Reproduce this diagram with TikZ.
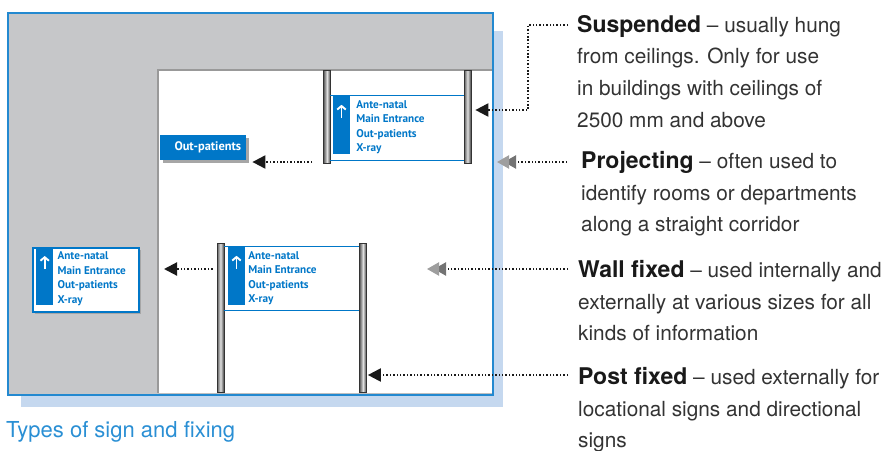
\documentclass[tikz,border=0pt]{standalone}
\usepackage{fontspec}
\setmainfont{TeX Gyre Heros}
\newfontfamily\signfont{PT Sans}
\usetikzlibrary{arrows.meta,shadows}
\definecolor{nhsblue}{HTML}{0077C8}
\definecolor{frameblue}{HTML}{2389D0}
\definecolor{paleblue}{HTML}{C5D8EF}
\definecolor{wallgrey}{HTML}{C6C7C9}
\definecolor{inkgrey}{HTML}{333333}
\definecolor{capblue}{HTML}{2A8FD4}
\newcommand{\head}[1]{{\fontsize{23}{31.7}\selectfont\bfseries\color{black!90}#1}}
\begin{document}
\begin{tikzpicture}[x=1pt,y=-1pt,
		note/.style={anchor=north west, inner sep=0pt, align=left, text=inkgrey, font=\fontsize{20.8}{31.7}\selectfont},
		pole/.style={draw=black!80, line width=0.7pt, minimum width=7pt, inner sep=0pt, left color=black!65, right color=black!75, middle color=black!12},
		board/.style={inner sep=0pt, minimum height=63pt},
		signline/.style={draw=nhsblue, line width=1.2pt},
		stripe/.style={fill=nhsblue, inner sep=0pt, minimum width=17pt, minimum height=58pt, anchor=north west},
		uparrow/.style={draw=white, line width=1.9pt, -{Straight Barb[length=3.5pt,width=8.5pt]}},
		signtext/.style={anchor=north west, inner sep=0pt, align=left, text=nhsblue, font=\signfont\bfseries\fontsize{11.2}{14.5}\selectfont},
		lead/.style={draw=black!90, line width=2.1pt, dash pattern=on 1.5pt off 1.9pt},
		blacktip/.style={-{Triangle[length=13pt,width=13pt,color=black!90]}},
		greytips/.style={-{Triangle[length=12pt,width=13pt,color=black!55,sep=-5pt]Triangle[length=12pt,width=13pt,color=black!38]}}]
	\useasboundingbox (0,0) rectangle (886,450);
	\fill[paleblue] (21,31) rectangle (503,407);
	\fill[wallgrey] (8,13) rectangle (493,395);
	\fill[white] (158,70) rectangle (493,393);
	\draw[black!40, line width=1.5pt] (158,393) -- (158,70) -- (493,70);
	\draw[black!25, line width=1pt] (158,393) -- (493,393);
	\draw[frameblue, line width=1.6pt] (8,13) rectangle (493,395);
	% suspended
	\node[pole, minimum height=93pt] (sp1) at (327,116.5) {};
	\node[pole, minimum height=93pt] (sp2) at (467.5,116.5) {};
	\node[board, minimum width=134pt, minimum height=64pt] (sb) at (397,128) {};
	\draw[signline] (sb.north west) -- (sb.north east) (sb.south west) -- (sb.south east);
	\node[stripe] (ss) at ([xshift=3pt]sb.north west) {};
	\draw[uparrow] ([yshift=-22pt]ss.north) -- ([yshift=-9pt]ss.north);
	\node[signtext] (st) at ([xshift=6pt,yshift=-4.5pt]ss.north east) {Ante-natal\\Main Entrance\\Out-patients\\X-ray};
	% projecting
	\node[anchor=west, fill=nhsblue, text=white, inner xsep=5pt, inner ysep=0pt, text width=76pt, align=right,
		minimum height=25pt, font=\signfont\bfseries\fontsize{12.4}{13}\selectfont,
		general shadow={shadow xshift=2.5pt, shadow yshift=-2.5pt, fill=black!35}] (op) at (160,147.5) {Out-patients};
	% wall fixed
	\node[anchor=north west, draw=nhsblue, line width=1.5pt, fill=white, minimum width=106pt, minimum height=64pt, inner sep=0pt,
		general shadow={shadow xshift=2.5pt, shadow yshift=-2.5pt, fill=black!35}] (ws) at (32,247) {};
	\node[stripe] (wss) at ([xshift=4pt]ws.north west) {};
	\draw[uparrow] ([yshift=-22pt]wss.north) -- ([yshift=-9pt]wss.north);
	\node[signtext] (wst) at ([xshift=4pt,yshift=-4.5pt]wss.north east) {Ante-natal\\Main Entrance\\Out-patients\\X-ray};
	% post fixed
	\node[pole, minimum height=149pt] (pp1) at (220.5,317.5) {};
	\node[pole, minimum height=149pt] (pp2) at (363,317.5) {};
	\node[board, minimum width=135pt] (pb) at (291.5,278.5) {};
	\draw[signline] (pb.north west) -- (pb.north east) (pb.south west) -- (pb.south east);
	\node[stripe] (pbs) at ([xshift=4pt]pb.north west) {};
	\draw[uparrow] ([yshift=-22pt]pbs.north) -- ([yshift=-9pt]pbs.north);
	\node[signtext] (pbt) at ([xshift=3pt,yshift=-4.5pt]pbs.north east) {Ante-natal\\Main Entrance\\Out-patients\\X-ray};
	% notes
	\node[note] (susp) at (577,15) {\head{Suspended} -- usually hung\\from ceilings. Only for use\\in buildings with ceilings of\\2500 mm and above};
	\node[note] (proj) at (581,151) {\head{Projecting} -- often used to\\identify rooms or departments\\along a straight corridor};
	\node[note] (wall) at (578,260) {\head{Wall fixed} -- used internally and\\externally at various sizes for all\\kinds of information};
	\node[note] (post) at (578,367) {\head{Post fixed} -- used externally for\\locational signs and directional\\signs};
	\node[anchor=base west, inner sep=0pt, text=capblue, font=\fontsize{22}{24}\selectfont] (cap) at (6,437) {Types of sign and fixing};
	\coordinate (suspA) at (568,25);
	\coordinate (projA) at (567,162);
	\coordinate (projTip) at (497,162);
	\coordinate (wallA) at (568,269);
	\coordinate (wallTip) at (427,269);
	\coordinate (wallL) at (164,269);
	\coordinate (postA) at (568,375);
	\draw[lead, blacktip] (suspA) -- ++(-40,0) |- ([xshift=4pt,yshift=6.5pt]sp2.east);
	\draw[lead, greytips] (projA) -- (projTip);
	\draw[lead, blacktip] ([xshift=-11pt,yshift=-45.5pt]sp1.west) -- ([xshift=6pt,yshift=-14.5pt]op.east);
	\draw[lead, greytips] (wallA) -- (wallTip);
	\draw[lead, blacktip] ([xshift=-4pt,yshift=48.5pt]pp1.west) -- (wallL);
	\draw[lead, blacktip] (postA) -- ([xshift=1pt,yshift=-57.5pt]pp2.east);
\end{tikzpicture}
\end{document}
